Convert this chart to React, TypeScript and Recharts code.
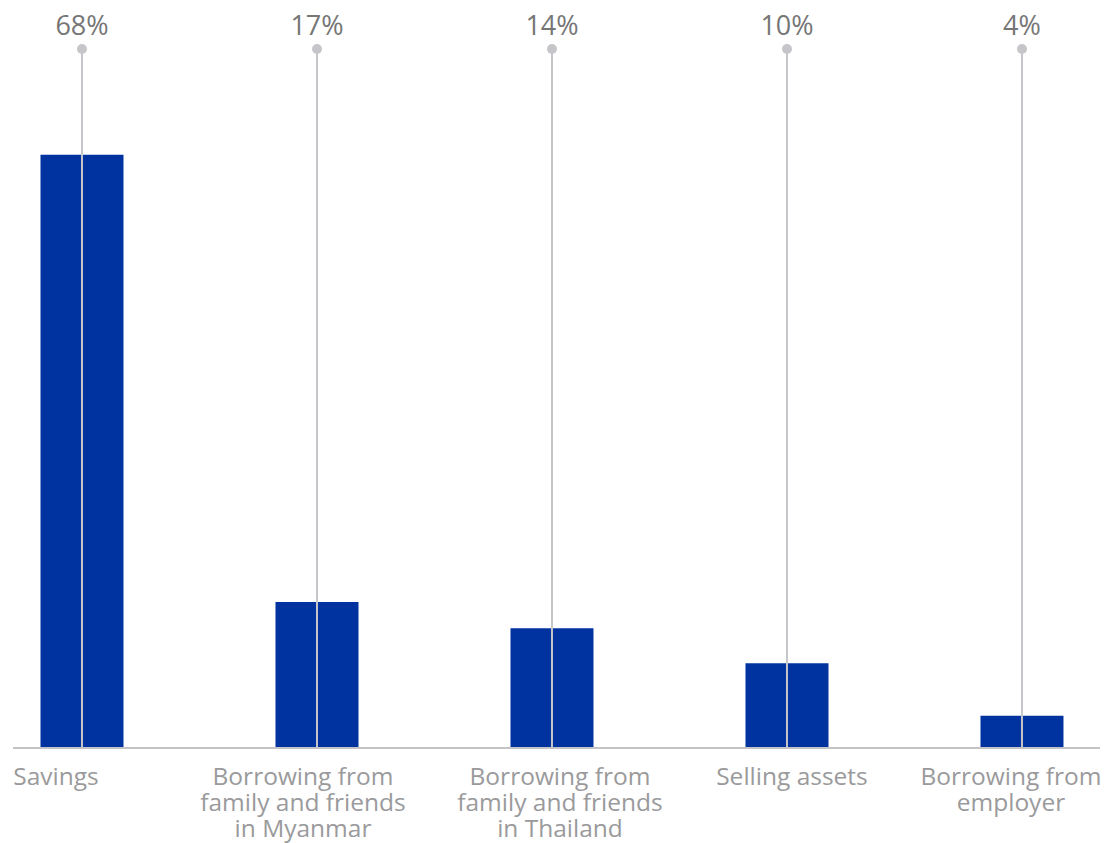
import { BarChart, Bar, XAxis, YAxis, ReferenceLine, ReferenceDot } from "recharts";

// categories and values
const categories = [
  "Savings",
  "Borrowing from\nfamily and friends\nin Myanmar",
  "Borrowing from\nfamily and friends\nin Thailand",
  "Selling assets",
  "Borrowing from\nemployer",
];
const shares = [67.9, 16.7, 13.7, 9.7, 3.7];
const valueLabels = ["68%", "17%", "14%", "10%", "4%"];

const data = categories.map((name, i) => ({ idx: i, name, share: shares[i] }));

const FONT = "'Open Sans', 'Noto Sans', sans-serif";
const BLUE = "#0033a0";
const STEM = "#c6c6ca";
// small nudges so the wrapped labels sit like in the source layout
const labelShift = [-26, -14, 8, 5, -11];

const CategoryTick = (props: any) => {
  const { x, y, payload } = props;
  const i = payload.value as number;
  const lines = (categories[i] || "").split("\n");
  return (
    <text
      x={x + (labelShift[i] || 0)}
      y={y}
      textAnchor="middle"
      fill="#9a9a9c"
      fontSize={24.5}
      fontFamily={FONT}
    >
      {lines.map((ln, k) => (
        <tspan key={k} x={x + (labelShift[i] || 0)} dy={k === 0 ? 35 : 26}>
          {ln}
        </tspan>
      ))}
    </text>
  );
};

export default function App() {
  return (
    <div style={{ position: "absolute", left: 0, top: 0, background: "#fff" }}>
      <BarChart
        width={1112}
        height={843}
        data={data}
        margin={{ top: 49, right: 12, bottom: 65, left: 13 }}
      >
        <XAxis
          dataKey="idx"
          type="number"
          height={30}
          domain={[-0.2936, 4.332]}
          ticks={[0, 1, 2, 3, 4]}
          interval={0}
          tickLine={false}
          tickSize={0}
          tick={<CategoryTick />}
          axisLine={{ stroke: "#c4c4c6", strokeWidth: 2 }}
          allowDataOverflow
        />
        <YAxis hide domain={[0, 80]} />
        <Bar dataKey="share" fill={BLUE} barSize={83} isAnimationActive={false} />
        {data.map((d) => (
          <ReferenceLine
            key={`stem-${d.idx}`}
            x={d.idx}
            stroke={STEM}
            strokeWidth={2}
            ifOverflow="visible"
          />
        ))}
        {data.map((d) => (
          <ReferenceDot
            key={`dot-${d.idx}`}
            x={d.idx}
            y={80}
            r={5}
            fill={STEM}
            stroke="none"
            ifOverflow="visible"
            label={{
              value: valueLabels[d.idx],
              position: "top",
              offset: 9,
              fill: "#767676",
              fontSize: 27,
              fontFamily: FONT,
            }}
          />
        ))}
      </BarChart>
    </div>
  );
}
